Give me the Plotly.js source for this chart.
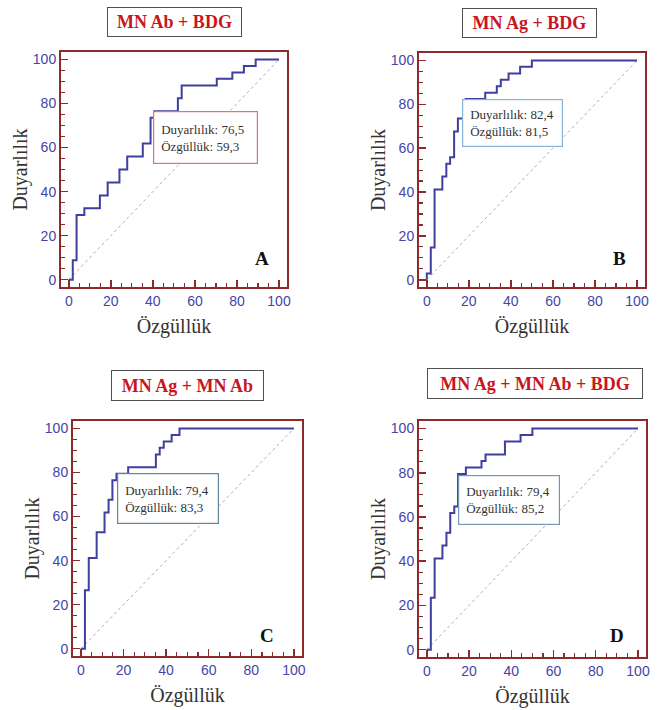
<!DOCTYPE html>
<html><head><meta charset="utf-8">
<script src="https://cdn.plot.ly/plotly-3.0.1.min.js"></script>
<style>html,body{margin:0;padding:0;background:#fff;}#chart{width:657px;height:710px;}</style>
</head><body><div id="chart"></div>
<script>
// ---- data ----
const panelTitles = ["MN Ab + BDG", "MN Ag + BDG", "MN Ag + MN Ab", "MN Ag + MN Ab + BDG"];
const panelLetters = ["A", "B", "C", "D"];
const sensitivityCut = ["76,5", "82,4", "79,4", "79,4"];
const specificityCut = ["59,3", "81,5", "83,3", "85,2"];

const rocA_x = [0, 1.9, 3.7, 7.4, 14.8, 18.5, 24.1, 27.8, 35.2, 38.9, 40.7, 51.9, 53.7, 70.4, 77.8, 83.3, 88.9, 100];
const rocA_y = [0, 8.8, 29.4, 32.4, 38.2, 44.1, 50.0, 55.9, 61.8, 73.5, 76.5, 82.4, 88.2, 91.2, 94.1, 97.1, 100, 100];

const rocB_x = [0, 0, 1.9, 3.7, 7.4, 9.3, 11.1, 13.0, 14.8, 18.5, 27.8, 33.3, 35.2, 38.9, 44.4, 50.0, 100];
const rocB_y = [0, 2.9, 14.7, 41.2, 47.1, 52.9, 55.9, 67.6, 73.5, 82.4, 85.3, 88.2, 91.2, 94.1, 97.1, 100, 100];

const rocC_x = [0, 1.9, 3.7, 7.4, 11.1, 13.0, 14.8, 16.7, 22.2, 35.2, 37.0, 38.9, 42.6, 46.3, 100];
const rocC_y = [0, 26.5, 41.2, 52.9, 61.8, 67.6, 76.5, 79.4, 82.4, 88.2, 91.2, 94.1, 97.1, 100, 100];

const rocD_x = [0, 1.9, 3.7, 7.4, 9.3, 11.1, 13.0, 14.8, 18.5, 25.9, 27.8, 37.0, 44.4, 50.0, 100];
const rocD_y = [0, 23.5, 41.2, 47.1, 52.9, 61.8, 64.7, 79.4, 82.4, 85.3, 88.2, 94.1, 97.1, 100, 100];

const diagonal = [0, 100];

// ---- layout helpers ----
const W = 657, H = 710;
const px = v => v / W;
const py = v => 1 - v / H;

const rocX = [rocA_x, rocB_x, rocC_x, rocD_x];
const rocY = [rocA_y, rocB_y, rocC_y, rocD_y];

// frame pixel boxes [left, right, top, bottom]
const frames = [[61, 287, 52, 287], [419, 645, 53, 287], [73, 302, 421, 656], [419, 646, 421, 657]];
const titleBoxes = [[174.5, 22, 135, 30], [529.5, 23, 135, 30], [187.5, 385.5, 153, 31], [535, 383.5, 216, 31]];
const infoBoxes = [[205.5, 137.5, 105, 53, '#e2707c'], [512.5, 123, 101, 48, '#86b4d8'], [168, 498.5, 102, 51, '#5f8797'], [509, 500, 102, 50, '#7697b4']];
const letterPos = [[262, 258], [619, 258], [267, 635], [617, 635]];

const lineBlue = '#3f3fa0';
const frameRed = '#8e2a2a';

const traces = [];
const layout = {
  width: W, height: H,
  margin: {l: 0, r: 0, t: 0, b: 0},
  paper_bgcolor: '#ffffff', plot_bgcolor: '#ffffff',
  showlegend: false,
  annotations: []
};

for (let i = 0; i < 4; i++) {
  const s = i === 0 ? '' : String(i + 1);
  traces.push({
    x: diagonal, y: diagonal, xaxis: 'x' + s, yaxis: 'y' + s,
    mode: 'lines', line: {color: '#b8a6c0', width: 1, dash: 'dot'}, hoverinfo: 'skip'
  });
  traces.push({
    x: rocX[i], y: rocY[i], xaxis: 'x' + s, yaxis: 'y' + s,
    mode: 'lines', line: {color: lineBlue, width: 2, shape: 'hv'}
  });
  const f = frames[i];
  const common = {
    showline: true, mirror: true, linecolor: frameRed, linewidth: 2,
    ticks: 'inside', ticklen: 7, tickwidth: 1.5, tickcolor: frameRed,
    tickmode: 'linear', tick0: 0, dtick: 20,
    minor: {dtick: 5, tick0: 0, ticks: 'inside', ticklen: 4, tickwidth: 1.2, tickcolor: frameRed, showgrid: false},
    showgrid: false, zeroline: false, fixedrange: true,
    tickfont: {family: 'Liberation Sans, Arial, sans-serif', size: 14, color: '#4444aa'}
  };
  layout['xaxis' + s] = Object.assign({}, common, {
    domain: [px(f[0]), px(f[1])], range: [-3.7, 103.8], anchor: 'y' + s,
    title: {text: 'Özgüllük', standoff: 11, font: {family: 'Liberation Serif, Times New Roman, serif', size: 20, color: '#333333'}}
  });
  layout['yaxis' + s] = Object.assign({}, common, {
    domain: [py(f[3]), py(f[2])], range: [-3.3, 103.4], anchor: 'x' + s,
    title: {text: 'Duyarlılık', standoff: 0, font: {family: 'Liberation Serif, Times New Roman, serif', size: 20, color: '#333333'}}
  });

  const t = titleBoxes[i];
  layout.annotations.push({
    xref: 'paper', yref: 'paper', x: px(t[0]), y: py(t[1]), xanchor: 'center', yanchor: 'middle',
    text: '<b>' + panelTitles[i] + '</b>', showarrow: false,
    font: {family: 'Liberation Serif, Times New Roman, serif', size: 18, color: '#c8161e'},
    bgcolor: '#ffffff', bordercolor: '#505050', borderwidth: 1, borderpad: 0,
    width: t[2] - 2, height: t[3] - 2
  });

  const b = infoBoxes[i];
  layout.annotations.push({
    xref: 'paper', yref: 'paper', x: px(b[0]), y: py(b[1]), xanchor: 'center', yanchor: 'middle',
    text: 'Duyarlılık: ' + sensitivityCut[i] + '<br>Özgüllük: ' + specificityCut[i],
    showarrow: false, align: 'left',
    font: {family: 'Liberation Serif, Times New Roman, serif', size: 13, color: '#333333'},
    bgcolor: '#ffffff', bordercolor: b[4], borderwidth: 1.2, borderpad: 7,
    width: b[2] - 16, height: b[3] - 16
  });

  const l = letterPos[i];
  layout.annotations.push({
    xref: 'paper', yref: 'paper', x: px(l[0]), y: py(l[1]), xanchor: 'center', yanchor: 'middle',
    text: '<b>' + panelLetters[i] + '</b>', showarrow: false,
    font: {family: 'Liberation Serif, Times New Roman, serif', size: 19, color: '#111111'}
  });
}

Plotly.newPlot('chart', traces, layout, {displayModeBar: false, staticPlot: true});
</script>
</body></html>
